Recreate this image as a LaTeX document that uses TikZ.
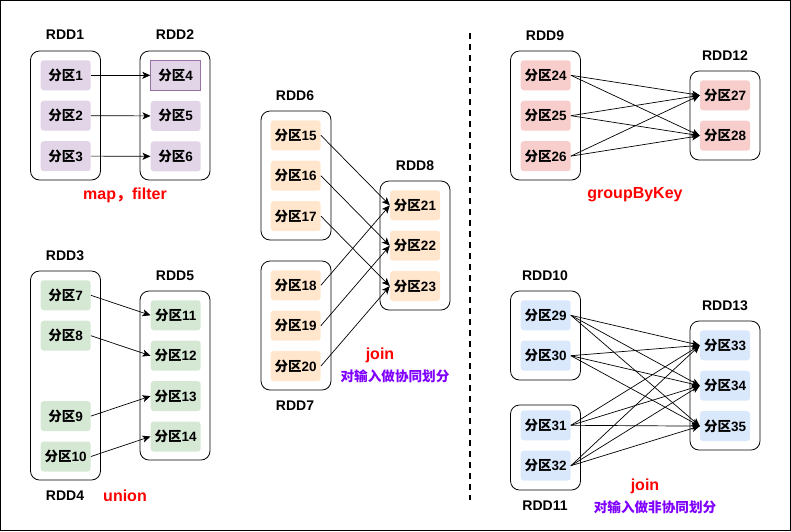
\documentclass[tikz,border=0pt]{standalone}
\usepackage{fontspec}
\setmainfont{Liberation Sans}
\newfontfamily\cjk{Noto Sans CJK SC}
\usetikzlibrary{arrows.meta,positioning}
\definecolor{lilac}{HTML}{E1D5E7}
\definecolor{lilacline}{HTML}{9673A6}
\definecolor{mint}{HTML}{D5E8D4}
\definecolor{peach}{HTML}{FFE6CC}
\definecolor{rose}{HTML}{F8CECC}
\definecolor{sky}{HTML}{DAE8FC}
\definecolor{opred}{HTML}{FF0000}
\definecolor{notepurple}{HTML}{7F00FF}
\newcommand{\fq}[1]{{\cjk 分区}#1}

\begin{document}
\begin{tikzpicture}[
  x=1pt, y=-1pt,
  node distance=10pt,
  rdd/.style={draw=black, rounded corners=9pt, minimum width=70pt, line width=0.8pt},
  part/.style={rounded corners=3pt, minimum width=50pt, minimum height=30pt, inner sep=0pt, font=\bfseries\fontsize{13.5}{15}\selectfont},
  rddlbl/.style={font=\bfseries\fontsize{14}{16}\selectfont},
  oplbl/.style={text=opred, font=\bfseries\fontsize{16}{18}\selectfont},
  notelbl/.style={text=notepurple, font=\bfseries\fontsize{13.6}{15}\selectfont\cjk},
  arr/.style={-{Stealth[length=8pt,width=7pt,inset=2pt]}, line width=0.7pt},
  sepline/.style={dash pattern=on 6pt off 5pt, line width=1.5pt}
]
\useasboundingbox (0,0) rectangle (791,531);
\draw[line width=1pt] (0.5,0.5) rectangle (790.5,530.5);

% map, filter
\node[rdd, minimum height=129pt] (rdd1) at (65.5,115.5) {};
\node[rdd, minimum height=129pt] (rdd2) at (175,115.5) {};
\node[rddlbl] (n1) at (65,35) {RDD1};
\node[rddlbl] (n2) at (175,35) {RDD2};
\node[part, fill=lilac] (p1) at (65.7,75.3) {\fq1};
\node[part, fill=lilac, below=of p1] (p2) {\fq2};
\node[part, fill=lilac, below=of p2] (p3) {\fq3};
\node[part, fill=lilac, draw=lilacline, line width=0.8pt, sharp corners] (p4) at (175.7,75.3) {\fq4};
\node[part, fill=lilac, below=of p4] (p5) {\fq5};
\node[part, fill=lilac, below=of p5] (p6) {\fq6};
\node[oplbl] (mapf) at (125,195) {map{\cjk ，}filter};

% union
\node[rdd, minimum height=209pt] (rdd3) at (65.5,375.5) {};
\node[rdd, minimum height=169pt] (rdd5) at (175,375.5) {};
\node[rddlbl] (n3) at (65,256) {RDD3};
\node[rddlbl] (n4) at (65,496) {RDD4};
\node[rddlbl] (n5) at (175,276) {RDD5};
\node[part, fill=mint] (p7) at (65.7,295.3) {\fq7};
\node[part, fill=mint, below=of p7] (p8) {\fq8};
\node[part, fill=mint, below=50pt of p8] (p9) {\fq9};
\node[part, fill=mint, below=of p9] (p10) {\fq{10}};
\node[part, fill=mint] (p11) at (175.7,315.3) {\fq{11}};
\node[part, fill=mint, below=of p11] (p12) {\fq{12}};
\node[part, fill=mint, below=of p12] (p13) {\fq{13}};
\node[part, fill=mint, below=of p13] (p14) {\fq{14}};
\node[oplbl] (uni) at (125,496) {union};

% join, co-partitioned
\node[rdd, minimum height=129pt] (rdd6) at (296,175.5) {};
\node[rdd, minimum height=129pt] (rdd7) at (296,325.5) {};
\node[rdd, minimum height=129pt] (rdd8) at (415,245.5) {};
\node[rddlbl] (n6) at (295,96) {RDD6};
\node[rddlbl] (n7) at (295,406) {RDD7};
\node[rddlbl] (n8) at (415,166) {RDD8};
\node[part, fill=peach] (p15) at (295.7,135.3) {\fq{15}};
\node[part, fill=peach, below=of p15] (p16) {\fq{16}};
\node[part, fill=peach, below=of p16] (p17) {\fq{17}};
\node[part, fill=peach] (p18) at (295.7,285.3) {\fq{18}};
\node[part, fill=peach, below=of p18] (p19) {\fq{19}};
\node[part, fill=peach, below=of p19] (p20) {\fq{20}};
\node[part, fill=peach] (p21) at (415,205.3) {\fq{21}};
\node[part, fill=peach, below=of p21] (p22) {\fq{22}};
\node[part, fill=peach, below=of p22] (p23) {\fq{23}};
\node[oplbl] (join1) at (380,355) {join};
\node[notelbl] (co) at (395,376) {对输入做协同划分};

\coordinate (septop) at (470,33);
\coordinate (sepbot) at (470,500);
\draw[sepline] (septop) -- (sepbot);

% groupByKey
\node[rdd, minimum height=129pt] (rdd9) at (545.5,115.5) {};
\node[rdd, minimum height=89pt] (rdd12) at (725,115.5) {};
\node[rddlbl] (n9) at (545,36) {RDD9};
\node[rddlbl] (n12) at (725,56) {RDD12};
\node[part, fill=rose] (p24) at (545.7,75.3) {\fq{24}};
\node[part, fill=rose, below=of p24] (p25) {\fq{25}};
\node[part, fill=rose, below=of p25] (p26) {\fq{26}};
\node[part, fill=rose] (p27) at (725,95.3) {\fq{27}};
\node[part, fill=rose, below=of p27] (p28) {\fq{28}};
\node[oplbl] (gbk) at (635,195) {groupByKey};

% join, not co-partitioned
\node[rdd, minimum height=89pt] (rdd10) at (545.5,335.5) {};
\node[rdd, minimum height=85pt] (rdd11) at (545.5,447.5) {};
\node[rdd, minimum height=129pt] (rdd13) at (725,385.5) {};
\node[rddlbl] (n10) at (545,276) {RDD10};
\node[rddlbl] (n11) at (545,506) {RDD11};
\node[rddlbl] (n13) at (725,306) {RDD13};
\node[part, fill=sky] (p29) at (545.7,315.3) {\fq{29}};
\node[part, fill=sky, below=of p29] (p30) {\fq{30}};
\node[part, fill=sky] (p31) at (545.7,425.3) {\fq{31}};
\node[part, fill=sky, below=of p31] (p32) {\fq{32}};
\node[part, fill=sky] (p33) at (725,345.3) {\fq{33}};
\node[part, fill=sky, below=of p33] (p34) {\fq{34}};
\node[part, fill=sky, below=of p34] (p35) {\fq{35}};
\node[oplbl] (join2) at (645,486) {join};
\node[notelbl] (nonco) at (655,507) {对输入做非协同划分};

\draw[arr] (p1.east)--(p4.west); \draw[arr] (p2.east)--(p5.west); \draw[arr] (p3.east)--(p6.west);
\draw[arr] (p7.east)--(p11.west); \draw[arr] (p8.east)--(p12.west);
\draw[arr] (p9.east)--(p13.west); \draw[arr] (p10.east)--(p14.west);
\draw[arr] (p15.east)--(p21.west); \draw[arr] (p16.east)--(p22.west); \draw[arr] (p17.east)--(p23.west);
\draw[arr] (p18.east)--(p21.west); \draw[arr] (p19.east)--(p22.west); \draw[arr] (p20.east)--(p23.west);
\draw[arr] (p24.east)--(p27.west); \draw[arr] (p24.east)--(p28.west);
\draw[arr] (p25.east)--(p27.west); \draw[arr] (p25.east)--(p28.west);
\draw[arr] (p26.east)--(p27.west); \draw[arr] (p26.east)--(p28.west);
\draw[arr] (p29.east)--(p33.west); \draw[arr] (p29.east)--(p34.west); \draw[arr] (p29.east)--(p35.west);
\draw[arr] (p30.east)--(p33.west); \draw[arr] (p30.east)--(p34.west); \draw[arr] (p30.east)--(p35.west);
\draw[arr] (p31.east)--(p33.west); \draw[arr] (p31.east)--(p34.west); \draw[arr] (p31.east)--(p35.west);
\draw[arr] (p32.east)--(p33.west); \draw[arr] (p32.east)--(p34.west); \draw[arr] (p32.east)--(p35.west);
\end{tikzpicture}
\end{document}
